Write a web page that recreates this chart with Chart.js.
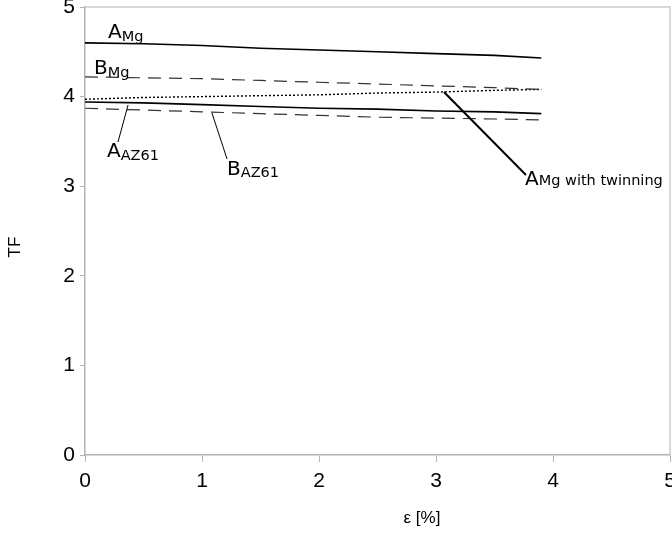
<!DOCTYPE html>
<html>
<head>
<meta charset="utf-8">
<script src="https://cdn.jsdelivr.net/npm/chart.js@4"></script>
<style>
  html, body { margin: 0; padding: 0; background: #fff; }
  #chart { display: block; }
</style>
</head>
<body>
<canvas id="chart" width="672" height="533"></canvas>
<script>
// strain values (x) and TF curves
const strain = [0, 0.5, 1, 1.5, 2, 2.5, 3, 3.5, 3.9];
const aMg = [4.60, 4.59, 4.57, 4.54, 4.52, 4.50, 4.48, 4.46, 4.43];
const bMg = [4.22, 4.21, 4.20, 4.18, 4.16, 4.14, 4.12, 4.10, 4.08];
const aMgTwin = [3.97, 3.99, 4.00, 4.01, 4.02, 4.04, 4.05, 4.07, 4.08];
const aAZ61 = [3.94, 3.93, 3.91, 3.89, 3.87, 3.86, 3.84, 3.83, 3.81];
const bAZ61 = [3.87, 3.85, 3.83, 3.81, 3.79, 3.77, 3.76, 3.75, 3.74];

const xTicks = [0, 1, 2, 3, 4, 5];
const yTicks = [0, 1, 2, 3, 4, 5];

// curve labels: main letter, subscript, anchor in data units
const labelMain = ['A', 'B', 'A', 'B', 'A'];
const labelSub = ['Mg', 'Mg', 'AZ61', 'AZ61', 'Mg with twinning'];
const labelX = [0.197, 0.077, 0.188, 1.214, 3.761];
const labelY = [4.654, 4.252, 3.326, 3.125, 3.013];
const labelSubDrop = [3, 3, 3, 2, 0];

// leader lines from curve to label, data units
const leaderFrom = [[0.368, 3.906], [1.085, 3.817], [3.068, 4.051]];
const leaderTo = [[0.282, 3.493], [1.214, 3.304], [3.769, 3.125]];
const leaderWidth = [1, 1, 2];

function pts(ys) {
    return strain.map((x, i) => ({ x: x, y: ys[i] }));
}

const axisColor = '#b3b3b3';

const extras = {
    id: 'extras',
    afterDraw(chart) {
        const ctx = chart.ctx;
        const xs = chart.scales.x, ys = chart.scales.y;
        const area = chart.chartArea;
        ctx.save();

        // top and right frame
        ctx.strokeStyle = '#cccccc';
        ctx.lineWidth = 1.5;
        ctx.beginPath();
        ctx.moveTo(area.left, area.top);
        ctx.lineTo(area.right, area.top);
        ctx.lineTo(area.right, area.bottom);
        ctx.stroke();

        // leader lines
        ctx.strokeStyle = '#000';
        leaderFrom.forEach((p, i) => {
            ctx.lineWidth = leaderWidth[i];
            ctx.beginPath();
            ctx.moveTo(xs.getPixelForValue(p[0]), ys.getPixelForValue(p[1]));
            ctx.lineTo(xs.getPixelForValue(leaderTo[i][0]), ys.getPixelForValue(leaderTo[i][1]));
            ctx.stroke();
        });

        // curve labels
        ctx.fillStyle = '#000';
        ctx.textBaseline = 'alphabetic';
        ctx.textAlign = 'left';
        labelMain.forEach((m, i) => {
            const px = xs.getPixelForValue(labelX[i]);
            const py = ys.getPixelForValue(labelY[i]);
            ctx.font = '20px "DejaVu Sans"';
            ctx.fillText(m, px, py);
            const w = ctx.measureText(m).width;
            ctx.font = '14.5px "DejaVu Sans"';
            ctx.fillText(labelSub[i], px + w, py + labelSubDrop[i]);
        });

        // axis titles
        ctx.font = '17px "Liberation Sans"';
        ctx.textAlign = 'center';
        ctx.textBaseline = 'middle';
        ctx.fillText('ε [%]', 422, 518);
        ctx.translate(15, 247);
        ctx.rotate(-Math.PI / 2);
        ctx.fillText('TF', 0, 0);
        ctx.restore();
    }
};

const tickFont = { family: 'Liberation Sans', size: 21 };

new Chart(document.getElementById('chart').getContext('2d'), {
    type: 'scatter',
    data: {
        datasets: [
            { label: 'A Mg', data: pts(aMg), borderColor: '#000', borderWidth: 1.6 },
            { label: 'B Mg', data: pts(bMg), borderColor: '#333', borderWidth: 1.2, borderDash: [13, 8] },
            { label: 'A Mg with twinning', data: pts(aMgTwin), borderColor: '#000', borderWidth: 1.4, borderDash: [2, 2] },
            { label: 'A AZ61', data: pts(aAZ61), borderColor: '#000', borderWidth: 1.6 },
            { label: 'B AZ61', data: pts(bAZ61), borderColor: '#333', borderWidth: 1.2, borderDash: [13, 8] }
        ].map(d => Object.assign(d, { showLine: true, pointRadius: 0, fill: false, tension: 0 }))
    },
    options: {
        responsive: false,
        animation: false,
        layout: { padding: { top: 7, right: 2, left: 0, bottom: 0 } },
        plugins: {
            legend: { display: false },
            tooltip: { enabled: false }
        },
        scales: {
            x: {
                type: 'linear',
                min: 0,
                max: 5,
                afterBuildTicks: s => { s.ticks = xTicks.map(v => ({ value: v })); },
                afterFit: s => { s.height = 78; s.paddingLeft = 0; s.paddingRight = 0; },
                ticks: { font: tickFont, color: '#000', padding: 7, maxRotation: 0 },
                grid: { drawOnChartArea: false, tickLength: 7, color: axisColor },
                border: { color: axisColor, width: 1.5 }
            },
            y: {
                min: 0,
                max: 5,
                afterBuildTicks: s => { s.ticks = yTicks.map(v => ({ value: v })); },
                afterFit: s => { s.width = 85; s.paddingTop = 0; s.paddingBottom = 0; },
                ticks: { font: tickFont, color: '#000', padding: 5 },
                grid: { drawOnChartArea: false, tickLength: 5, color: axisColor },
                border: { color: axisColor, width: 1.5 }
            }
        }
    },
    plugins: [extras]
});
</script>
</body>
</html>
